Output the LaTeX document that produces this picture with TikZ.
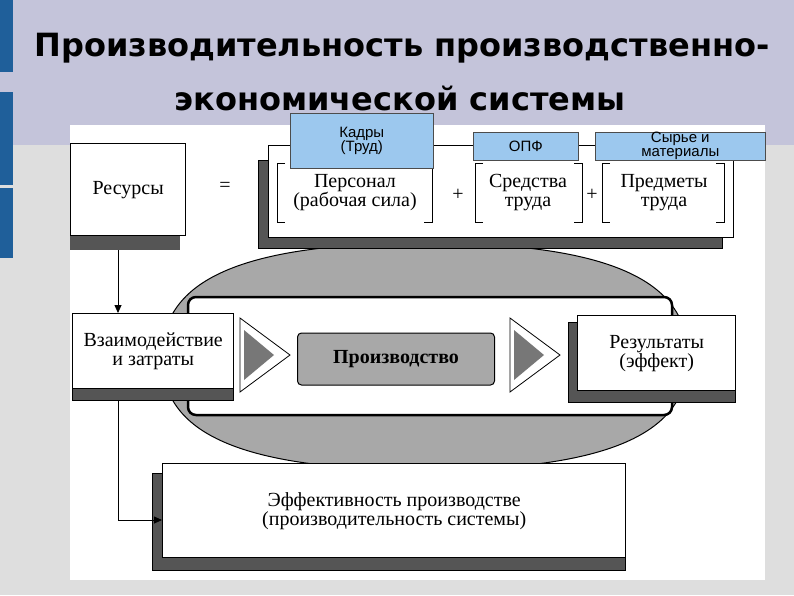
\documentclass[tikz,border=0pt]{standalone}
\usepackage{fontspec}
\setmainfont{Liberation Serif}
\newfontfamily\titlefont{DejaVu Sans}
\newfontfamily\lblfont{Liberation Sans}
\usetikzlibrary{arrows.meta}
\definecolor{topbg}{HTML}{C4C4DA}
\definecolor{lowbg}{HTML}{DEDEDE}
\definecolor{barblue}{HTML}{1F5F9A}
\definecolor{lblue}{HTML}{9CC8EE}
\definecolor{shadowg}{HTML}{555555}
\definecolor{ovalg}{HTML}{A8A8A8}
\tikzset{
  wbox/.style={draw=black,line width=1.4pt,fill=white},
  shad/.style={fill=shadowg,draw=black,line width=0.6pt},
  blbl/.style={draw=black!70,fill=lblue,line width=0.6pt,font=\lblfont\fontsize{15}{14}\selectfont,align=center,inner sep=0pt},
  txt/.style={font=\fontsize{20}{19}\selectfont,align=center},
  arr/.style={-{Triangle[length=8pt,width=7pt]},line width=0.8pt}
}
\begin{document}
\begin{tikzpicture}[x=1pt,y=-1pt]
\useasboundingbox (0,0) rectangle (794,595);
\fill[lowbg] (0,0) rectangle (794,595);
\fill[topbg] (0,0) rectangle (794,145);
\fill[white] (70,125) rectangle (765,580);
\foreach \a/\b in {0/72,92/185,188/258} \fill[barblue] (0,\a) rectangle (13,\b);
\node[font=\titlefont\bfseries\fontsize{32}{32}\selectfont,anchor=center] (t1) at (402,48) {Производительность производственно-};
\node[font=\titlefont\bfseries\fontsize{32}{32}\selectfont] (t2) at (400,98) {экономической системы};
% oval
\draw[fill=ovalg,line width=1pt] (425,243) .. controls (630,243) and (688,290) .. (688,357)
  .. controls (688,424) and (630,470) .. (425,470)
  .. controls (220,470) and (162,424) .. (162,357)
  .. controls (162,290) and (220,243) .. (425,243) -- cycle;
\draw[wbox,line width=2.5pt,rounded corners=8pt] (188,297) rectangle (672,415);
% resources
\fill[shadowg] (70,230) rectangle (180,250);
\node[wbox,minimum width=115pt,minimum height=92pt,anchor=north west,txt] (res) at (70,143) {Ресурсы};
\node[txt] (eq) at (225,187) {=};
\fill[shad] (258,160) rectangle (722,248);
\node[wbox,minimum width=465pt,minimum height=92pt,anchor=north west] (big) at (268,145) {};
\node[txt] (b1) at (355,193) {Персонал\\(рабочая сила)};
\node[txt] (p1) at (458,195) {+};
\node[txt] (b2) at (528,193) {Средства\\труда};
\node[txt] (p2) at (592,195) {+};
\node[txt] (b3) at (664,193) {Предметы\\труда};
\foreach \l/\r in {277/432,475/582,602/724}{
  \draw[line width=1pt] (\l+8,163) -- (\l,163) -- (\l,222) -- (\l+8,222);
  \draw[line width=1pt] (\r-8,163) -- (\r,163) -- (\r,222) -- (\r-8,222);
}
\node[blbl,minimum width=143pt,minimum height=55pt,anchor=north west] (kadr) at (290,113) {Кадры\\(Труд)};
\node[blbl,minimum width=105pt,minimum height=28pt,anchor=north west] (opf) at (473,132) {ОПФ};
\node[blbl,minimum width=170pt,minimum height=28pt,anchor=north west] (syr) at (595,132) {Сырье и\\материалы};
% interaction
\fill[shad] (72,380) rectangle (233,400);
\node[wbox,minimum width=161pt,minimum height=75pt,anchor=north west,txt] (vz) at (72,313) {Взаимодействие\\и затраты};
% triangles
\foreach \x in {240,510}{
  \draw[fill=white,line width=0.8pt] (\x,318) -- (\x+50,355) -- (\x,392) -- cycle;
  \fill[shadowg!80] (\x+4,330) -- (\x+34,355) -- (\x+4,380) -- cycle;
}
\node[draw=black,line width=1pt,fill=ovalg,rounded corners=4pt,minimum width=197pt,minimum height=52pt,font=\bfseries\fontsize{20}{20}\selectfont] (prod) at (396,359) {Производство};
\fill[shad] (568,322) rectangle (735,402);
\node[wbox,minimum width=158pt,minimum height=75pt,anchor=north west,txt] (rez) at (577,315) {Результаты\\(эффект)};
\fill[shad] (152,473) rectangle (625,570);
\node[wbox,minimum width=463pt,minimum height=94pt,anchor=north west,txt] (eff) at (162,463) {Эффективность производстве\\(производительность системы)};
\coordinate (c1) at (118,520);
\draw[arr] (118,250) -- (vz.north -| 118,0);
\draw[line width=0.8pt] (118,400) -- (c1);
\draw[arr] (c1) -- (eff.west |- c1);
\end{tikzpicture}
\end{document}
